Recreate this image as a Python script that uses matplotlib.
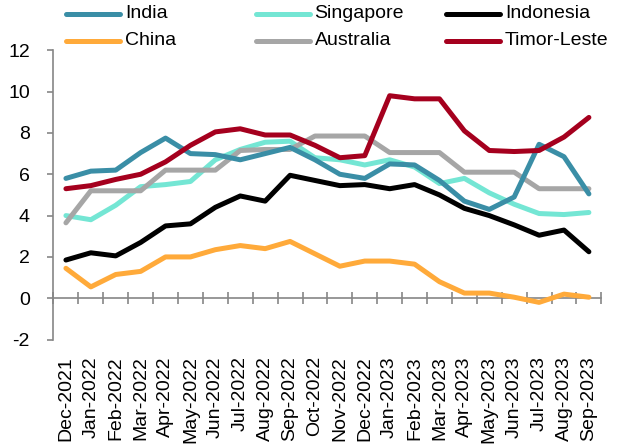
import matplotlib
matplotlib.use("Agg")
import matplotlib.pyplot as plt
from matplotlib.lines import Line2D
import numpy as np

plt.rcParams['font.family'] = ['Liberation Sans', 'DejaVu Sans']

months = ["Dec-2021", "Jan-2022", "Feb-2022", "Mar-2022", "Apr-2022", "May-2022",
          "Jun-2022", "Jul-2022", "Aug-2022", "Sep-2022", "Oct-2022", "Nov-2022",
          "Dec-2022", "Jan-2023", "Feb-2023", "Mar-2023", "Apr-2023", "May-2023",
          "Jun-2023", "Jul-2023", "Aug-2023", "Sep-2023"]

india = [5.8, 6.15, 6.2, 7.05, 7.75, 7.0, 6.95, 6.7, 7.0, 7.3, 6.7, 6.0,
         5.8, 6.5, 6.45, 5.7, 4.7, 4.3, 4.9, 7.45, 6.85, 5.05]
singapore = [4.0, 3.8, 4.5, 5.4, 5.5, 5.65, 6.7, 7.2, 7.55, 7.6, 6.8, 6.7,
             6.45, 6.7, 6.35, 5.55, 5.8, 5.1, 4.55, 4.1, 4.05, 4.15]
indonesia = [1.85, 2.2, 2.05, 2.7, 3.5, 3.6, 4.4, 4.95, 4.7, 5.95, 5.7, 5.45,
             5.5, 5.3, 5.5, 5.0, 4.35, 4.0, 3.55, 3.05, 3.3, 2.25]
china = [1.45, 0.55, 1.15, 1.3, 2.0, 2.0, 2.35, 2.55, 2.4, 2.75, 2.15, 1.55,
         1.8, 1.8, 1.65, 0.8, 0.25, 0.25, 0.05, -0.2, 0.2, 0.05]
australia = [3.65, 5.2, 5.2, 5.2, 6.2, 6.2, 6.2, 7.15, 7.2, 7.2, 7.85, 7.85,
             7.85, 7.05, 7.05, 7.05, 6.1, 6.1, 6.1, 5.3, 5.3, 5.3]
timor = [5.3, 5.45, 5.75, 6.0, 6.6, 7.4, 8.05, 8.2, 7.9, 7.9, 7.4, 6.8,
         6.9, 9.8, 9.65, 9.65, 8.1, 7.15, 7.1, 7.15, 7.8, 8.75]

names = ["India", "Singapore", "Indonesia", "China", "Australia", "Timor-Leste"]
series = [india, singapore, indonesia, china, australia, timor]
colors = ["#3A8EA6", "#74E6D4", "#000000", "#FFAA3A", "#A6A6A6", "#A5001E"]

yticks = [-2, 0, 2, 4, 6, 8, 10, 12]

fig = plt.figure(figsize=(6.24, 4.46), dpi=100)
ax = fig.add_axes([0.0857, 0.2386, 0.878, 0.6487])

x = np.arange(len(months))
zorders = [3, 2, 4, 3, 2, 5]
for vals, c, z in zip(series, colors, zorders):
    ax.plot(x, vals, color=c, lw=3.6, solid_capstyle='round', solid_joinstyle='round', zorder=z)

ax.set_xlim(-0.5, len(months) - 0.5)
ax.set_ylim(-2, 12)
ax.set_yticks(yticks)
ax.set_yticklabels([str(t) for t in yticks], fontsize=14)

axcol = "#868686"
for s in ['top', 'right']:
    ax.spines[s].set_visible(False)
ax.spines['left'].set_color(axcol)
ax.spines['left'].set_linewidth(1.2)
ax.spines['bottom'].set_color(axcol)
ax.spines['bottom'].set_linewidth(1.2)
ax.spines['bottom'].set_position(('data', 0))
ax.tick_params(axis='y', direction='out', length=4, width=1.2, color=axcol, pad=13)
ax.set_xticks(np.arange(-0.5, len(months), 1.0))
ax.set_xticklabels([])
ax.tick_params(axis='x', direction='inout', length=9, width=1.2, color=axcol)

for i, m in enumerate(months):
    ax.text(i, -0.057, m, transform=ax.get_xaxis_transform(), rotation=90,
            ha='center', va='top', fontsize=14)

# legend: three columns of two rows
col_x = [0.106, 0.410, 0.715]
row_y = [0.031, 0.091]
for k, (n, c) in enumerate(zip(names, colors)):
    col = k % 3
    row = k // 3
    xs = col_x[col]
    yy = 1 - row_y[row]
    fig.add_artist(Line2D([xs, xs + 0.087], [yy, yy], color=c, lw=3.6,
                          solid_capstyle='round', transform=fig.transFigure))
    fig.text(xs + 0.094, yy, n, ha='left', va='center', fontsize=14)

fig.savefig("out.png", dpi=100)
